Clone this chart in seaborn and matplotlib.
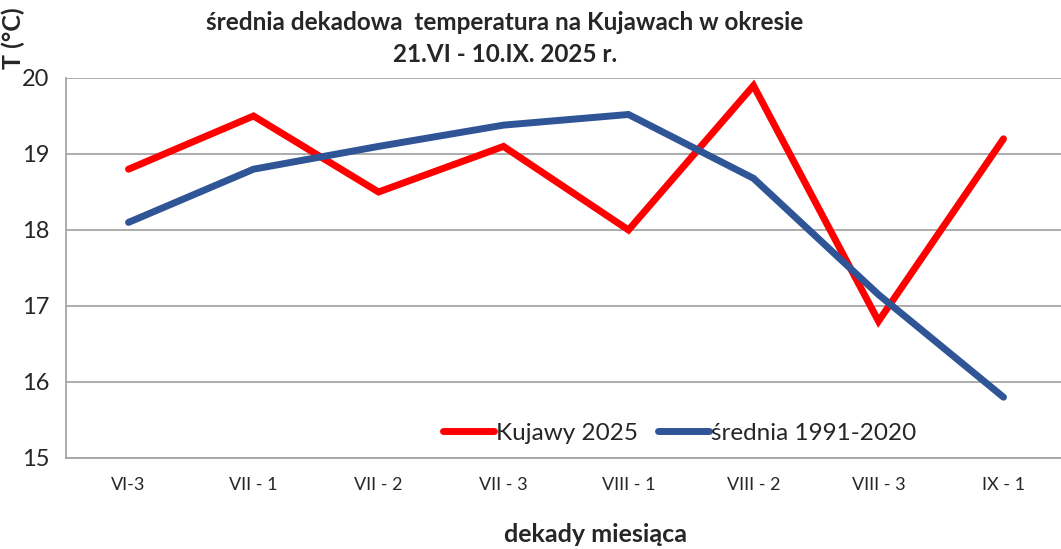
import matplotlib
matplotlib.use("Agg")
import matplotlib.pyplot as plt
import seaborn as sns
import pandas as pd

categories = ["VI-3", "VII - 1", "VII - 2", "VII - 3", "VIII - 1", "VIII - 2", "VIII - 3", "IX - 1"]
kujawy_2025 = [18.8, 19.5, 18.5, 19.1, 18.0, 19.9, 16.8, 19.2]
srednia_1991_2020 = [18.1, 18.8, 19.1, 19.38, 19.52, 18.68, 17.15, 15.8]
y_ticks = [15, 16, 17, 18, 19, 20]

sns.set_theme(style="white")
plt.rcParams['font.family'] = ['Lato', 'DejaVu Sans']

df = pd.DataFrame({
    "x": list(range(len(categories))) * 2,
    "T": kujawy_2025 + srednia_1991_2020,
    "series": ["Kujawy 2025"] * len(categories) + ["średnia 1991-2020"] * len(categories),
})

fig = plt.figure(figsize=(10.61, 5.49), dpi=100)
W, H = 1061, 549
left, right, top, bottom = 66, 1066, 78, 458
ax = fig.add_axes([left / W, 1 - bottom / H, (right - left) / W, (bottom - top) / H])

sns.lineplot(data=df, x="x", y="T", hue="series",
             palette={"Kujawy 2025": "#FF0000", "średnia 1991-2020": "#2F5597"},
             linewidth=5, ax=ax, legend=True, solid_capstyle="round", solid_joinstyle="miter")

ax.set_xlim(-0.5, len(categories) - 0.5)
ax.set_ylim(15, 20)
ax.set_yticks(y_ticks)
ax.set_yticklabels([str(t) for t in y_ticks], fontsize=17)
ax.set_xticks(range(len(categories)))
ax.set_xticklabels(categories, fontsize=13)
ax.tick_params(axis="both", length=0)
ax.tick_params(axis="x", pad=14)
ax.tick_params(axis="y", pad=12)
ax.grid(axis="y", color="#A6A6A6", linewidth=1.3)
for s in ["top", "right"]:
    ax.spines[s].set_visible(False)
for s in ["left", "bottom"]:
    ax.spines[s].set_color("#A6A6A6")
    ax.spines[s].set_linewidth(1.3)
ax.set_xlabel("")
ax.set_ylabel("")

leg = ax.legend(loc="lower left", bbox_to_anchor=(0.355, -0.02), ncol=2, frameon=False,
                fontsize=17.5, handlelength=2.1, handletextpad=0.1, columnspacing=0.8)
for line in leg.get_lines():
    line.set_linewidth(5)
    line.set_solid_capstyle("round")

fig.text(505 / W, 1 - 22 / H, "średnia dekadowa  temperatura na Kujawach w okresie",
         ha="center", va="center", fontsize=17.5, fontweight="bold")
fig.text(505 / W, 1 - 55 / H, "21.VI - 10.IX. 2025 r.",
         ha="center", va="center", fontsize=17.5, fontweight="bold")
fig.text(596 / W, 1 - 535 / H, "dekady miesiąca",
         ha="center", va="center", fontsize=18, fontweight="bold")
fig.text(13 / W, 1 - 38 / H, "T (°C)", rotation=90,
         ha="center", va="center", fontsize=18, fontweight="bold")

fig.savefig("out.png", dpi=100)
